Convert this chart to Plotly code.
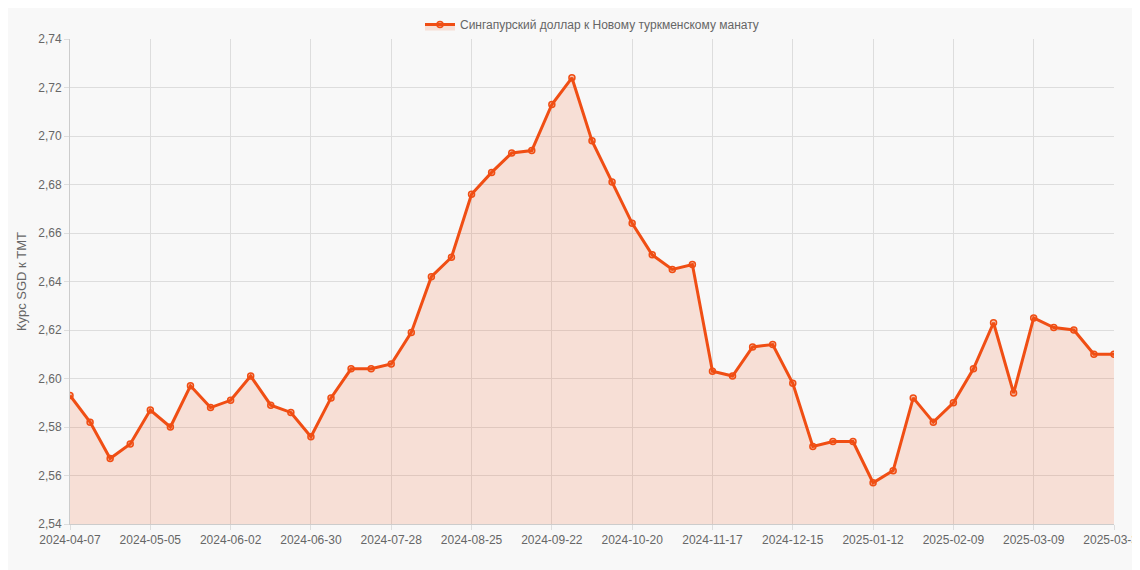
import datetime as dt
import plotly.graph_objects as go

start = dt.date(2024, 4, 7)
dates = [(start + dt.timedelta(weeks=i)).isoformat() for i in range(52)] + ["2025-03-31"]

rates = [2.593, 2.582, 2.567, 2.573, 2.587, 2.580, 2.597, 2.588, 2.591, 2.601,
         2.589, 2.586, 2.576, 2.592, 2.604, 2.604, 2.606, 2.619, 2.642, 2.650,
         2.676, 2.685, 2.693, 2.694, 2.713, 2.724, 2.698, 2.681, 2.664, 2.651,
         2.645, 2.647, 2.603, 2.601, 2.613, 2.614, 2.598, 2.572, 2.574, 2.574,
         2.557, 2.562, 2.592, 2.582, 2.590, 2.604, 2.623, 2.594, 2.625, 2.621,
         2.620, 2.610, 2.610]

tick_labels = dates[::4]

fig = go.Figure()
fig.add_trace(go.Scatter(
    x=dates, y=rates, name="Сингапурский доллар к Новому туркменскому манату",
    mode="lines+markers", fill="tozeroy", fillcolor="rgba(240,80,20,0.15)",
    line=dict(color="#f04e14", width=3),
    marker=dict(size=6, color="rgba(240,80,20,0.3)", line=dict(color="#f04e14", width=1.5)),
))

fig.update_layout(
    width=1140, height=570,
    paper_bgcolor="#f8f8f8", plot_bgcolor="#f8f8f8",
    margin=dict(l=62, r=34, t=31, b=54, autoexpand=False),
    font=dict(family="Liberation Sans, Arial", size=12, color="#666"),
    separators=", ",
    showlegend=True,
    legend=dict(orientation="h", x=0.5, xanchor="center", y=1.0, yanchor="bottom",
                font=dict(size=12, color="#666"), bgcolor="rgba(0,0,0,0)"),
    xaxis=dict(type="category", tickvals=tick_labels, ticktext=tick_labels, automargin=False,
               showgrid=True, gridcolor="#ddd", linecolor="#ccc", ticks="outside",
               tickcolor="#ddd", range=[0, len(dates) - 1], tickangle=0),
    yaxis=dict(range=[2.54, 2.74], dtick=0.02, tickformat=".2f", automargin=False,
               showgrid=True, gridcolor="#ddd", linecolor="#ccc", ticks="outside",
               tickcolor="#ddd", title=dict(text="Курс SGD к TMT", font=dict(size=13), standoff=8)),
)

fig.write_html("out.html")
